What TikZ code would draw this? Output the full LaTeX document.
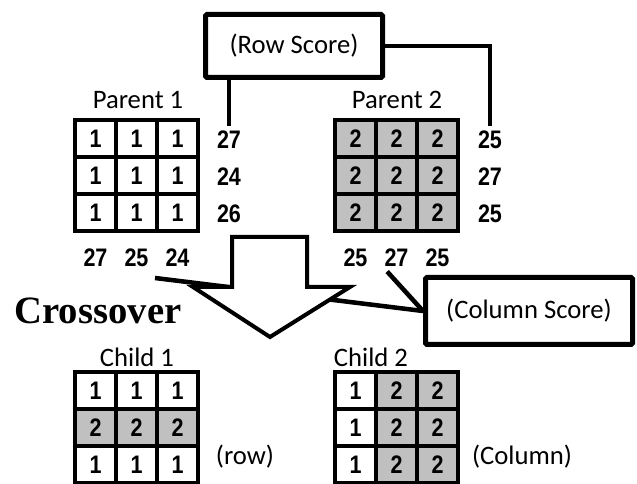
\documentclass[tikz,border=0pt]{standalone}
\usepackage{fontspec}
\setmainfont{Carlito}
\newfontfamily\numfont[FakeStretch=0.85]{Liberation Sans}
\newfontfamily\crossfont{Liberation Serif}
\usetikzlibrary{positioning}
\definecolor{cellgray}{RGB}{192,192,192}

\tikzset{
  cell/.style={draw, line width=2.5pt, minimum width=30.75pt, minimum height=27.75pt, inner sep=0pt,
    font=\numfont\bfseries\fontsize{19}{19}\selectfont},
  score/.style={font=\numfont\bfseries\fontsize{19}{19}\selectfont},
  label/.style={font=\fontsize{20}{20}\selectfont},
  scorebox/.style={draw, line width=3.75pt, fill=white, rounded corners=1pt, font=\fontsize{20}{20}\selectfont},
  conn/.style={line width=3.4pt},
}

\begin{document}
\begin{tikzpicture}[x=0.75pt, y=-0.75pt]
		\useasboundingbox (0,0) rectangle (637,484);
		
		% parents
		\node[label] (parent1) at (138,100) {Parent 1};
		\node[label] (parent2) at (397,100) {Parent 2};
		\foreach \r in {1,2,3}{
			\foreach \c in {1,2,3}{
				\node[cell] (p1-\r-\c) at ({95.5+41*(\c-1)},{138.5+37*(\r-1)}) {1};
				\node[cell, fill=cellgray] (p2-\r-\c) at ({355.5+41*(\c-1)},{138.5+37*(\r-1)}) {2};
			}
		}
		
		% row scores
		\foreach \r/\v in {1/27,2/24,3/26}
			\node[score] (p1r\r) at (229,{139.5+37*(\r-1)}) {\v};
		\foreach \r/\v in {1/25,2/27,3/25}
			\node[score] (p2r\r) at (490,{139.5+37*(\r-1)}) {\v};
		
		% column scores
		\foreach \c/\v in {1/27,2/25,3/24}
			\node[score] (p1c\c) at ({95.5+41*(\c-1)},258) {\v};
		\foreach \c/\v in {1/25,2/27,3/25}
			\node[score] (p2c\c) at ({355.5+41*(\c-1)},258) {\v};
		
		\node[scorebox, minimum width=132.75pt, minimum height=47.25pt] (rowbox) at (294,46) {(Row Score)};
		\node[scorebox, minimum width=155.25pt, minimum height=50.25pt] (colbox) at (529,311) {(Column Score)};
		
		\draw[conn] (rowbox.south -| p1r1) -- (p1r1.north);
		\draw[conn] (rowbox.east) -| (p2r1.north);
		
		\coordinate (p1tail) at (155,278);
		\draw[conn] (colbox.west) -- (p1tail);
		\draw[conn] (colbox.west) -- ([xshift=-7pt]p2c2.south);
		
		% crossover arrow
		\draw[line width=3pt, fill=white] (232,237) -- (307,237) -- (307,287) -- (350,287)
			-- (270,337) -- (193,287) -- (232,287) -- cycle;
		\node[font=\crossfont\bfseries\fontsize{29}{29}\selectfont] (crossover) at (98,311) {Crossover};
		
		% children
		\node[label] (child1) at (137,357) {Child 1};
		\node[label] (child2) at (371,357) {Child 2};
		\foreach \r/\f/\v in {1/white/1,2/cellgray/2,3/white/1}{
			\foreach \c in {1,2,3}
				\node[cell, fill=\f] (c1-\r-\c) at ({95.5+41*(\c-1)},{390.5+37*(\r-1)}) {\v};
		}
		\foreach \c/\f/\v in {1/white/1,2/cellgray/2,3/cellgray/2}{
			\foreach \r in {1,2,3}
				\node[cell, fill=\f] (c2-\r-\c) at ({355.5+41*(\c-1)},{390.5+37*(\r-1)}) {\v};
		}
		\node[label] (rowlabel) at (245,457) {(row)};
		\node[label] (collabel) at (522,457) {(Column)};
		\end{tikzpicture}
\end{document}
